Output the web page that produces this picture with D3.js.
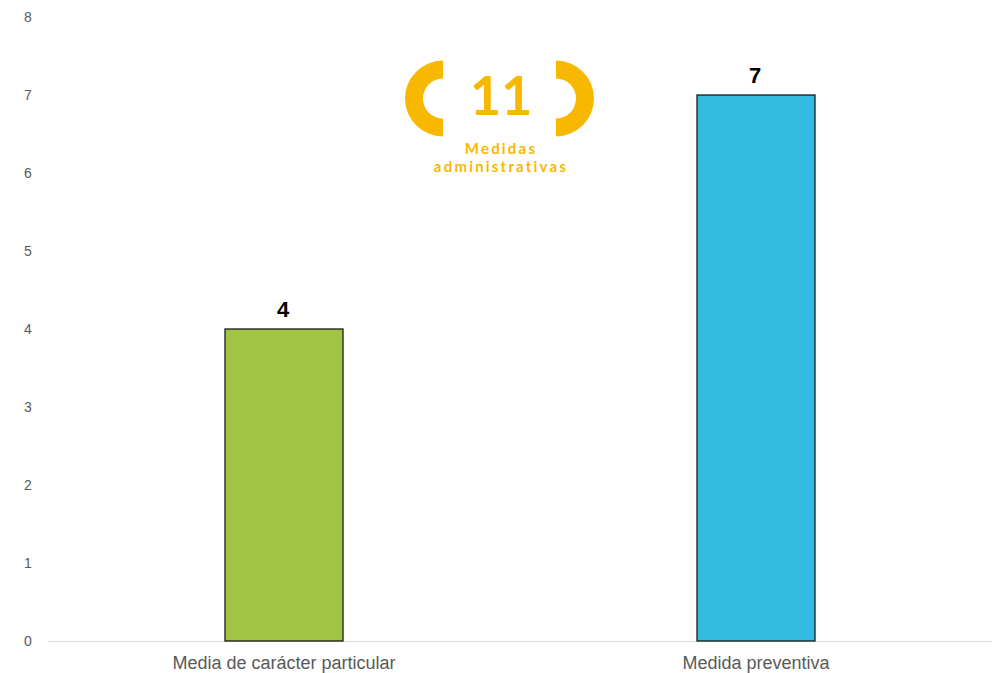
<!DOCTYPE html>
<html><head><meta charset="utf-8">
<script src="https://cdn.jsdelivr.net/npm/d3@7"></script>
<style>body{margin:0;background:#fff}svg{display:block}</style>
</head><body>
<script>
const categories = ["Media de carácter particular", "Medida preventiva"];
const values = [4, 7];
const barColors = ["#A1C445", "#31BBE0"];
const yTicks = [0,1,2,3,4,5,6,7,8];
const badgeNumber = "11";
const badgeLines = ["Medidas", "administrativas"];

(function(){
const W = 996, H = 673;
const svg = d3.select("body").append("svg").attr("width", W).attr("height", H);
const mLeft = 48, mRight = 992, mTop = 17, mBottom = 641;

const x = d3.scaleBand().domain(categories).range([mLeft, mRight]).padding(0);
const y = d3.scaleLinear().domain([0, 8]).range([mBottom, mTop]);

svg.append("g").selectAll("text").data(yTicks).join("text")
  .attr("x", 28).attr("y", d => y(d)).attr("dy", "0.35em")
  .attr("text-anchor", "middle")
  .attr("font-family", "Liberation Sans, Arial, sans-serif").attr("font-size", 14)
  .attr("fill", "#595959").text(d => d);

svg.append("line").attr("x1", mLeft).attr("x2", mRight).attr("y1", y(0)+0.5).attr("y2", y(0)+0.5)
  .attr("stroke", "#d9d9d9").attr("stroke-width", 1);

const bw = x.bandwidth() * 0.25;
svg.append("g").selectAll("rect").data(values).join("rect")
  .attr("x", (d,i) => x(categories[i]) + x.bandwidth()/2 - bw/2)
  .attr("y", d => y(d))
  .attr("width", bw).attr("height", d => y(0) - y(d))
  .attr("fill", (d,i) => barColors[i]).attr("stroke", "#1a1a1a").attr("stroke-width", 1.3);

svg.append("g").selectAll("text").data(values).join("text")
  .attr("x", (d,i) => x(categories[i]) + x.bandwidth()/2 - 1)
  .attr("y", d => y(d) - 12)
  .attr("text-anchor", "middle")
  .attr("font-family", "Liberation Sans, Arial, sans-serif").attr("font-size", 22).attr("font-weight", "bold")
  .attr("fill", "#000").text(d => d);

svg.append("g").selectAll("text").data(categories).join("text")
  .attr("x", d => x(d) + x.bandwidth()/2).attr("y", 669)
  .attr("text-anchor", "middle")
  .attr("font-family", "Liberation Sans, Arial, sans-serif").attr("font-size", 18)
  .attr("fill", "#595959").text(d => d);

const orange = "#F9B800";
const arc = d3.arc().innerRadius(20).outerRadius(38);
const badge = svg.append("g");
badge.append("path").attr("transform", "translate(443,98.5)")
  .attr("d", arc({startAngle: Math.PI, endAngle: 2*Math.PI})).attr("fill", orange);
badge.append("path").attr("transform", "translate(556,98.5)")
  .attr("d", arc({startAngle: 0, endAngle: Math.PI})).attr("fill", orange);
badge.append("text").attr("x", 501).attr("y", 115).attr("text-anchor", "middle")
  .attr("font-family", "Lato, sans-serif").attr("font-weight", "bold").attr("font-size", 54)
  .attr("fill", orange).text(badgeNumber);
badge.append("g").selectAll("text").data(badgeLines).join("text")
  .attr("x", 501).attr("y", (d,i) => 154 + i*18).attr("text-anchor", "middle")
  .attr("font-family", "Lato, sans-serif").attr("font-weight", "bold").attr("font-size", 15)
  .attr("letter-spacing", 2.2).attr("fill", orange).text(d => d);
})();
</script>
</body></html>
